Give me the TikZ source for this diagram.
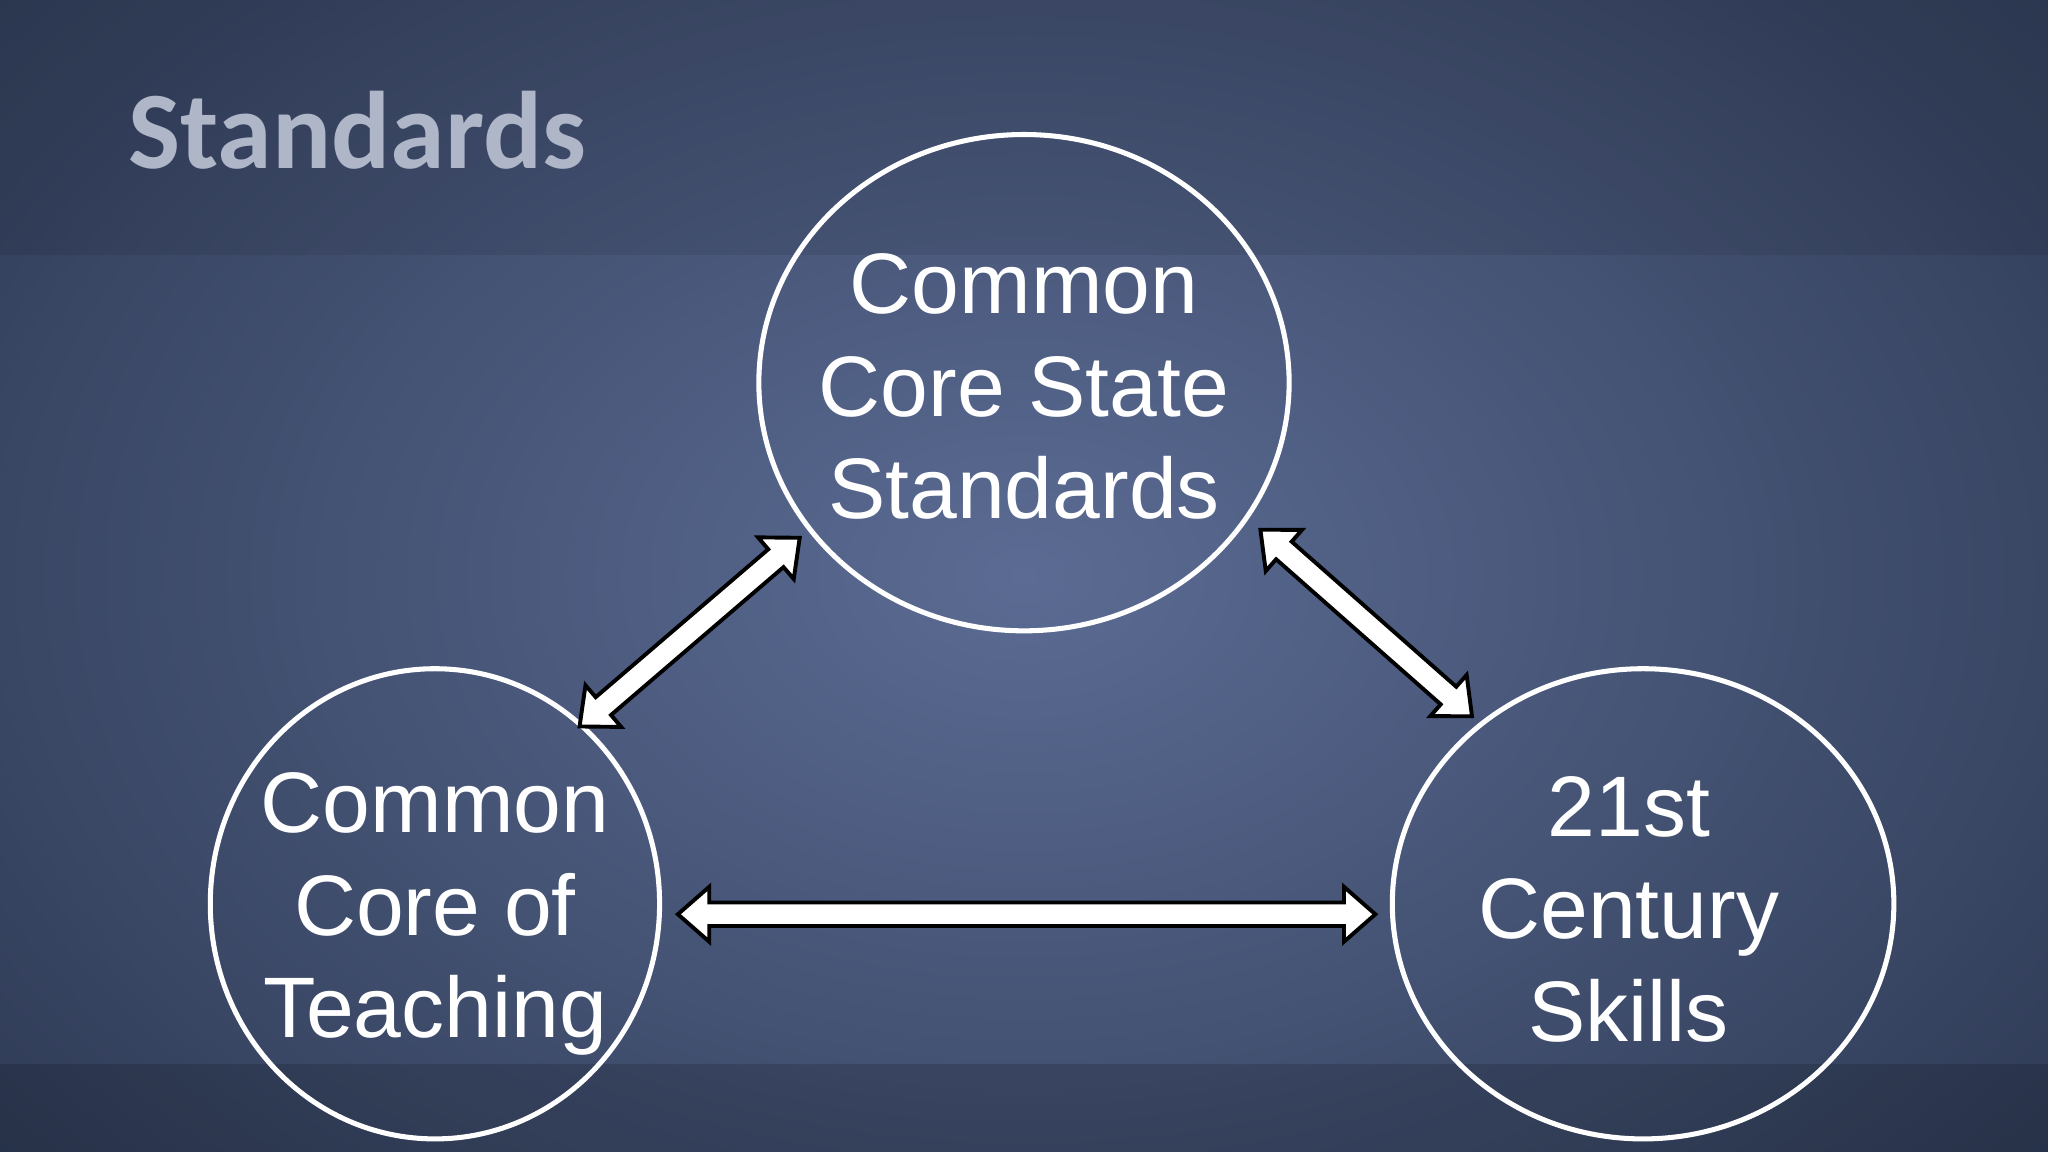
\documentclass[tikz,border=0pt]{standalone}
\usepackage{fontspec}
\setmainfont{Liberation Sans}
\newfontfamily\titlefont{Carlito}
\definecolor{bgin}{HTML}{5B6B93}
\definecolor{bgout}{HTML}{2C3852}
\definecolor{titlec}{HTML}{AEB6C8}
\newcommand\dblarrow[4]{%
  \begin{scope}[shift={(#1,#2)},rotate=#3]
    \draw[arrowshape] ({-#4/2},0) -- ({-#4/2+24},21) -- ({-#4/2+24},9) -- ({#4/2-24},9) -- ({#4/2-24},21) -- ({#4/2},0) -- ({#4/2-24},-21) -- ({#4/2-24},-9) -- ({-#4/2+24},-9) -- ({-#4/2+24},-21) -- cycle;
  \end{scope}}
\begin{document}
\begin{tikzpicture}[x=0.01cm,y=0.01cm,
  lbl/.style={text=white,font=\fontsize{18.7}{22.3}\selectfont,align=center},
  ring/.style={draw=white,line width=1.1pt},
  arrowshape/.style={fill=white,draw=black,line width=0.85pt,line join=miter}]
\useasboundingbox (0,0) rectangle (1568,882);
\shade[inner color=bgin,outer color=bgout] (-300,-300) rectangle (1868,1182);
\fill[black,opacity=0.08] (0,687) rectangle (1568,882);
\fill[black,opacity=0.15] (0,0) rectangle (1568,67);
\node[text=titlec,font=\titlefont\bfseries\fontsize{24}{28}\selectfont,anchor=west] (title) at (86,782) {Standards};
\draw[ring] (784,589) ellipse (203 and 190);
\draw[ring] (333,190) ellipse (172 and 180);
\draw[ring] (1258,190) ellipse (192 and 180);
\node[lbl] (ccss) at (784,586) {Common\\Core State\\Standards};
\node[lbl] (ccot) at (333,182) {Common\\Core of\\Teaching};
\node[lbl] (tfc) at (1247,186) {21st\\Century\\Skills};
\dblarrow{528}{398}{40.6}{222}
\dblarrow{1046}{405}{-41.4}{216}
\dblarrow{786}{182}{0}{534}
\end{tikzpicture}
\end{document}
